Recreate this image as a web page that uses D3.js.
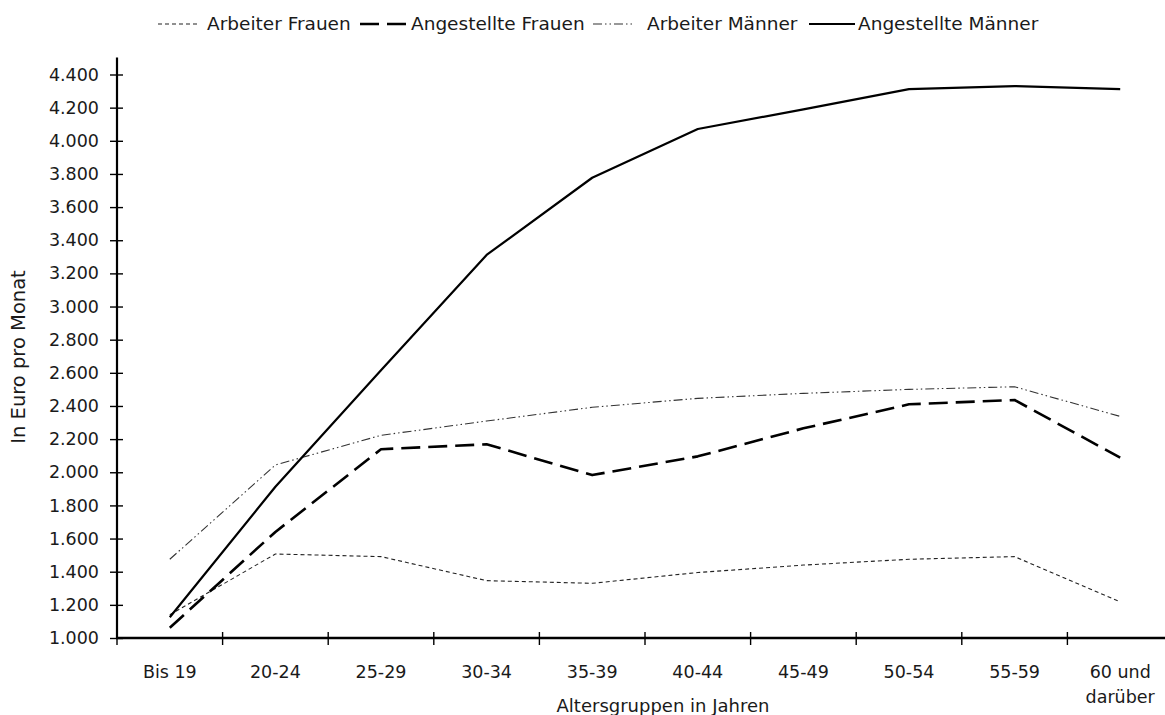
<!DOCTYPE html>
<html>
<head>
<meta charset="utf-8">
<script src="https://cdn.jsdelivr.net/npm/d3@7"></script>
<style>
  body { margin: 0; background: #fff; }
  svg { display: block; }
  text { font-family: "DejaVu Sans", sans-serif; fill: #1a1a1a; }
</style>
</head>
<body>
<svg id="chart"></svg>
<script>
// Altersgruppen (x-Kategorien)
var categories = ["Bis 19", "20-24", "25-29", "30-34", "35-39", "40-44", "45-49", "50-54", "55-59", "60 und\ndarüber"];

// Bruttoverdienst in Euro pro Monat
var arbeiterFrauen     = [1140, 1507, 1491, 1346, 1330, 1395, 1440, 1475, 1491, 1218];
var angestellteFrauen  = [1062, 1640, 2139, 2169, 1983, 2096, 2265, 2410, 2436, 2088];
var arbeiterMaenner    = [1475, 2044, 2223, 2309, 2392, 2446, 2476, 2500, 2516, 2337];
var angestellteMaenner = [1125, 1913, 2615, 3311, 3777, 4071, 4190, 4312, 4330, 4312];

var seriesNames = ["Arbeiter Frauen", "Angestellte Frauen", "Arbeiter Männer", "Angestellte Männer"];
var yTicks = d3.range(1000, 4401, 200);

var width = 1165, height = 715;
var margin = {top: 74.5, left: 117, bottom: 77, right: -8};

var svg = d3.select("#chart")
  .attr("width", width)
  .attr("height", height);

var x = d3.scaleBand()
  .domain(categories)
  .range([margin.left, width - margin.right])
  .padding(0);

var y = d3.scaleLinear()
  .domain([1000, 4400])
  .range([height - margin.bottom, margin.top]);

var de = d3.formatLocale({decimal: ",", thousands: ".", grouping: [3], currency: ["", " €"]});
var fmt = de.format(",d");

// Linienstile
var styles = [
  {width: 1.1, dash: "4,3", color: "#222"},
  {width: 2.6, dash: "19,8", color: "#000"},
  {width: 1.1, dash: "9,3,1.5,3,1.5,3", color: "#333"},
  {width: 2.2, dash: null, color: "#000"}
];
var allSeries = [arbeiterFrauen, angestellteFrauen, arbeiterMaenner, angestellteMaenner];

// y-Achse
var yAxis = svg.append("g")
  .attr("transform", "translate(" + margin.left + ",0)")
  .call(d3.axisLeft(y).tickValues(yTicks).tickFormat(fmt).tickSizeInner(7).tickSizeOuter(0));
yAxis.select(".domain").attr("stroke", "#000").attr("stroke-width", 2.2)
  .attr("d", "M0," + y(1000) + "V" + (margin.top - 17));
yAxis.selectAll(".tick line").attr("x2", -7).attr("x1", 6).attr("stroke", "#000").attr("stroke-width", 1.4);
yAxis.selectAll(".tick text")
  .attr("x", -18)
  .style("font-size", "17.5px")
  .style("font-family", "DejaVu Sans, sans-serif")
  .attr("fill", "#1a1a1a");

// x-Achse
var xAxis = svg.append("g").attr("class", "x axis");
xAxis.append("line")
  .attr("x1", margin.left - 1).attr("x2", width)
  .attr("y1", y(1000)).attr("y2", y(1000))
  .attr("stroke", "#000").attr("stroke-width", 2.4);
xAxis.selectAll(".xtick")
  .data(categories)
  .enter().append("line")
  .attr("class", "xtick")
  .attr("x1", function(d) { return x(d); })
  .attr("x2", function(d) { return x(d); })
  .attr("y1", y(1000) - 6)
  .attr("y2", y(1000) + 7)
  .attr("stroke", "#000").attr("stroke-width", 1.4);

var xLabels = xAxis.selectAll(".xlabel")
  .data(categories)
  .enter().append("text")
  .attr("class", "xlabel")
  .attr("text-anchor", "middle")
  .style("font-size", "17.5px")
  .attr("y", 678);
xLabels.selectAll("tspan")
  .data(function(d) { return d.split("\n").map(function(t) { return {cat: d, t: t}; }); })
  .enter().append("tspan")
  .attr("x", function(d) { return x(d.cat) + x.bandwidth() / 2; })
  .attr("dy", function(d, i) { return i === 0 ? 0 : 25; })
  .text(function(d) { return d.t; });

// Achsentitel
svg.append("text")
  .attr("text-anchor", "middle")
  .attr("x", 663).attr("y", 712)
  .style("font-size", "18px")
  .text("Altersgruppen in Jahren");

svg.append("text")
  .attr("text-anchor", "middle")
  .attr("transform", "translate(25,357) rotate(-90)")
  .style("font-size", "19.5px")
  .text("In Euro pro Monat");

// Linien
var line = d3.line()
  .x(function(d, i) { return x(categories[i]) + x.bandwidth() / 2; })
  .y(function(d) { return y(d); });

svg.append("g").selectAll("path")
  .data(allSeries)
  .enter().append("path")
  .attr("fill", "none")
  .attr("stroke", function(d, i) { return styles[i].color; })
  .attr("stroke-width", function(d, i) { return styles[i].width; })
  .attr("stroke-dasharray", function(d, i) { return styles[i].dash; })
  .attr("stroke-linejoin", "round")
  .attr("d", line);

// Legende
var legendPos = [[158, 199, 207], [360, 407, 411], [593, 635, 647], [809, 855, 858]];
var legend = svg.append("g").selectAll("g")
  .data(seriesNames)
  .enter().append("g");
legend.append("line")
  .attr("x1", function(d, i) { return legendPos[i][0]; })
  .attr("x2", function(d, i) { return legendPos[i][1]; })
  .attr("y1", 24).attr("y2", 24)
  .attr("stroke", function(d, i) { return styles[i].color; })
  .attr("stroke-width", function(d, i) { return styles[i].width; })
  .attr("stroke-dasharray", function(d, i) { return styles[i].dash; });
legend.append("text")
  .attr("x", function(d, i) { return legendPos[i][2]; })
  .attr("y", 30)
  .style("font-size", "18.5px")
  .text(function(d) { return d; });
</script>
</body>
</html>
